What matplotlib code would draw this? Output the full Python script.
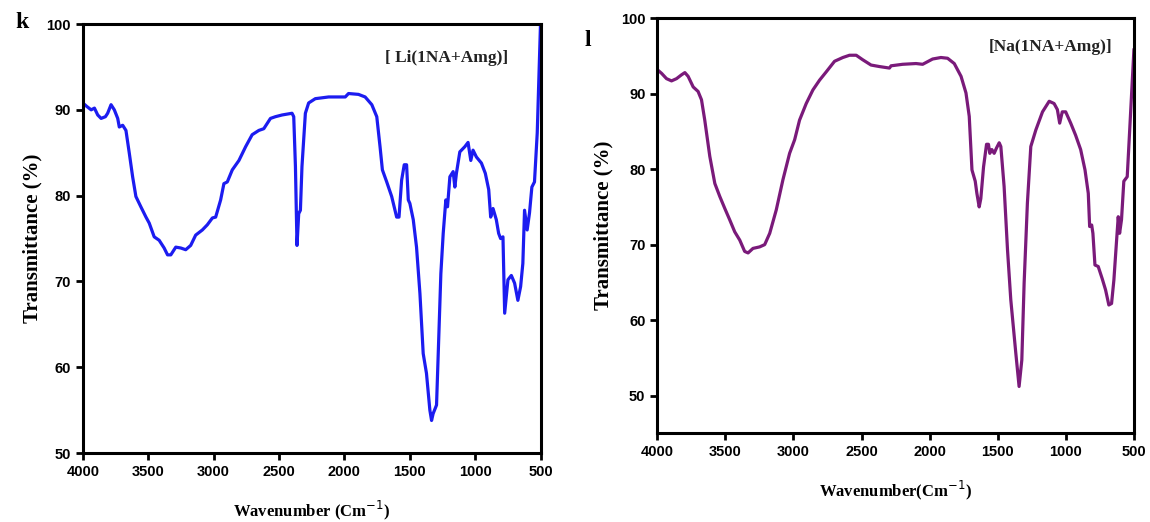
import numpy as np
import matplotlib
matplotlib.use('Agg')
import matplotlib.pyplot as plt

# FTIR spectra
li_wn = [4000, 3970, 3936, 3911, 3886, 3860, 3827, 3810, 3784, 3759, 3733, 3721, 3695, 3670,
         3644, 3619, 3594, 3556, 3517, 3492, 3454, 3416, 3378, 3352, 3327, 3289, 3251, 3213,
         3175, 3137, 3086, 3048, 3009, 2984, 2946, 2921, 2895, 2857, 2806, 2755, 2705, 2654,
         2616, 2565, 2527, 2476, 2400, 2387, 2374, 2362, 2349, 2336, 2324, 2298, 2273, 2222,
         2120, 1993, 1968, 1892, 1841, 1790, 1752, 1727, 1709, 1676, 1638, 1600, 1582, 1562,
         1542, 1524, 1511, 1499, 1473, 1448, 1422, 1397, 1372, 1346, 1333, 1321, 1295, 1282,
         1262, 1244, 1224, 1211, 1193, 1168, 1155, 1143, 1117, 1079, 1054, 1033, 1016, 990,
         952, 922, 896, 881, 863, 838, 820, 805, 787, 774, 749, 723, 698, 673, 652, 635, 622,
         602, 584, 566, 546, 525, 500]
li_t = [90.8, 90.4, 90.0, 90.2, 89.4, 89.0, 89.2, 89.6, 90.6, 90.0, 89.0, 88.0, 88.2, 87.6,
        84.9, 82.2, 79.9, 78.7, 77.5, 76.8, 75.2, 74.8, 73.9, 73.1, 73.1, 74.0, 73.9, 73.7,
        74.2, 75.4, 76.0, 76.6, 77.4, 77.5, 79.5, 81.4, 81.6, 83.0, 84.1, 85.7, 87.1, 87.6,
        87.8, 89.0, 89.2, 89.4, 89.6, 89.2, 83.4, 74.2, 77.9, 78.3, 83.4, 89.6, 90.8, 91.3,
        91.5, 91.5, 91.9, 91.8, 91.5, 90.6, 89.2, 85.7, 83.0, 81.6, 79.9, 77.5, 77.5, 81.8,
        83.6, 83.6, 79.5, 79.1, 77.2, 74.0, 68.6, 61.6, 59.3, 55.0, 53.8, 54.6, 55.6, 61.6,
        70.9, 75.6, 79.5, 78.7, 82.2, 82.8, 81.0, 82.6, 85.1, 85.7, 86.2, 84.1, 85.3, 84.5,
        83.8, 82.6, 80.7, 77.5, 78.5, 77.2, 75.6, 75.0, 75.2, 66.3, 70.2, 70.7, 69.8, 67.8,
        69.4, 72.1, 78.3, 76.0, 78.0, 81.0, 81.6, 87.3, 100.0]

na_wn = [4000, 3968, 3932, 3895, 3858, 3822, 3797, 3773, 3736, 3700, 3675, 3651, 3614, 3577,
         3541, 3504, 3468, 3431, 3394, 3358, 3333, 3297, 3248, 3211, 3174, 3126, 3077, 3028,
         2991, 2955, 2906, 2857, 2808, 2759, 2698, 2637, 2588, 2539, 2491, 2430, 2368, 2295,
         2283, 2198, 2100, 2051, 1978, 1917, 1868, 1819, 1769, 1733, 1709, 1689, 1665, 1653,
         1636, 1624, 1604, 1582, 1568, 1558, 1543, 1526, 1509, 1489, 1477, 1453, 1428, 1404,
         1367, 1343, 1323, 1306, 1282, 1257, 1220, 1171, 1122, 1086, 1062, 1045, 1026, 1001,
         964, 928, 891, 859, 835, 825, 810, 801, 786, 762, 733, 708, 684, 664, 647, 627, 615,
         605, 591, 574, 549, 532, 500]
na_t = [93.2, 92.7, 92.0, 91.7, 92.0, 92.5, 92.8, 92.3, 90.9, 90.3, 89.2, 86.5, 81.7, 78.1,
        76.4, 74.8, 73.3, 71.7, 70.6, 69.1, 68.9, 69.5, 69.7, 70.0, 71.5, 74.6, 78.6, 82.1,
        83.9, 86.5, 88.7, 90.5, 91.8, 92.9, 94.3, 94.8, 95.1, 95.1, 94.5, 93.8, 93.6, 93.4,
        93.7, 93.9, 94.0, 93.9, 94.6, 94.8, 94.7, 94.0, 92.3, 90.1, 87.0, 79.9, 78.4, 76.8,
        75.0, 76.1, 80.3, 83.3, 83.3, 82.1, 82.6, 82.1, 82.8, 83.5, 83.0, 77.7, 69.3, 62.7,
        55.6, 51.2, 54.7, 64.9, 75.5, 83.0, 85.2, 87.6, 89.0, 88.7, 87.9, 86.1, 87.6, 87.6,
        86.1, 84.5, 82.6, 79.9, 76.8, 72.4, 72.6, 71.5, 67.3, 67.1, 65.5, 64.0, 62.0, 62.2,
        65.3, 70.6, 73.7, 71.5, 73.3, 78.4, 79.0, 84.8, 95.8]

x_ticks = [4000, 3500, 3000, 2500, 2000, 1500, 1000, 500]

SERIF = 'Liberation Serif'
SANS = 'Liberation Sans'


def style_axes(ax, ylim, yticks, xlabel, ypad):
    ax.set_xlim(4000, 500)
    ax.set_ylim(*ylim)
    ax.set_xticks(x_ticks)
    ax.set_yticks(yticks)
    for s in ax.spines.values():
        s.set_linewidth(2.2)
    ax.tick_params(direction='out', length=5, width=2, labelsize=10.5)
    for lab in ax.get_xticklabels() + ax.get_yticklabels():
        lab.set_fontfamily(SANS)
        lab.set_fontweight('bold')
    ax.set_xlabel(xlabel, fontfamily=SERIF, fontweight='bold', fontsize=12, labelpad=14)
    ax.set_ylabel('Transmittance (%)', fontfamily=SERIF, fontweight='bold', fontsize=15,
                  labelpad=ypad)


fig = plt.figure(figsize=(11.5, 5.22), dpi=100)

ax1 = fig.add_axes([0.072, 0.132, 0.398, 0.822])
ax1.plot(li_wn, li_t, color='#1c1cf0', lw=2.3)
style_axes(ax1, (50, 100), [50, 60, 70, 80, 90, 100], 'Wavenumber (Cm$^{-1}$)', 3)
ax1.text(0.93, 0.92, '[ Li(1NA+Amg)]', transform=ax1.transAxes, ha='right', va='center',
         fontfamily=SERIF, fontweight='bold', fontsize=12.5, color='#222222')
fig.text(15 / 1150, 1 - 22 / 522, 'k', fontfamily=SERIF, fontweight='bold', fontsize=17,
         va='center', ha='left')

ax2 = fig.add_axes([0.5715, 0.170, 0.4145, 0.795])
ax2.plot(na_wn, na_t, color='#7a1a7a', lw=2.3)
style_axes(ax2, (45, 100), [50, 60, 70, 80, 90, 100], 'Wavenumber(Cm$^{-1}$)', 5)
ax2.text(0.955, 0.93, '[Na(1NA+Amg)]', transform=ax2.transAxes, ha='right', va='center',
         fontfamily=SERIF, fontweight='bold', fontsize=12.5, color='#222222')
fig.text(585 / 1150, 1 - 40 / 522, 'l', fontfamily=SERIF, fontweight='bold', fontsize=17,
         va='center', ha='left')

fig.savefig('out.png', dpi=100)
